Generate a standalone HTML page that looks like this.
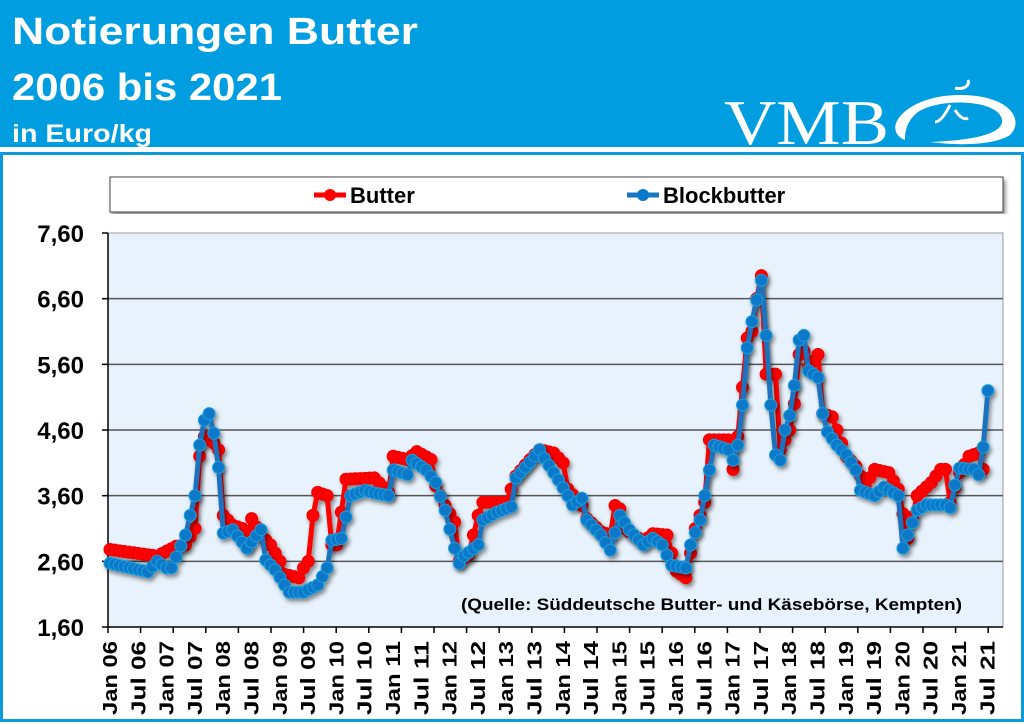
<!DOCTYPE html>
<html><head><meta charset="utf-8"><style>
body{margin:0;width:1024px;height:722px;overflow:hidden;background:#fff;font-family:"Liberation Sans",sans-serif}
</style></head><body>
<svg id="s" width="1024" height="722" xmlns="http://www.w3.org/2000/svg">
<defs>
<filter id="sh" x="-5%" y="-5%" width="110%" height="110%"><feDropShadow dx="2" dy="3" stdDeviation="2" flood-color="#000" flood-opacity="0.45"/></filter>
</defs>
<rect x="0" y="0" width="1024" height="147" fill="#009EE0"/>
<text x="12" y="44" fill="#fff" font-size="38" font-weight="bold" textLength="406" lengthAdjust="spacingAndGlyphs">Notierungen Butter</text>
<text x="12" y="100" fill="#fff" font-size="38" font-weight="bold" textLength="270" lengthAdjust="spacingAndGlyphs">2006 bis 2021</text>
<text x="12" y="142" fill="#fff" font-size="25" font-weight="bold" textLength="140" lengthAdjust="spacingAndGlyphs">in Euro/kg</text>
<text x="724" y="144" fill="#fff" font-size="64" font-family="Liberation Serif,serif" textLength="165" lengthAdjust="spacingAndGlyphs">VMB</text>
<path d="M905 140 C880 130 905 95 960 95 C1010 95 1025 120 1010 135 C995 145 960 146 930 142 C985 140 1010 130 1000 115 C990 100 940 98 918 112 C905 122 905 135 905 140Z" fill="#fff"/>
<path d="M955 88 C965 90 970 85 968 80" stroke="#fff" stroke-width="3" fill="none"/>
<path d="M950 105 C945 115 940 122 935 122 M955 110 C960 118 965 120 968 118" stroke="#fff" stroke-width="3" fill="none"/>
<rect x="1.5" y="153.5" width="1021" height="567" fill="#fff" stroke="#0B9BDB" stroke-width="3"/>
<rect x="110" y="177" width="893" height="35" fill="#fff" stroke="#444" stroke-width="1" filter="url(#sh)"/>
<line x1="314" y1="195" x2="346" y2="195" stroke="#f00" stroke-width="5"/><circle cx="330" cy="195" r="6" fill="#f00"/>
<text x="350" y="203" font-size="22" font-weight="bold">Butter</text>
<line x1="627" y1="195" x2="659" y2="195" stroke="#1a75c0" stroke-width="5"/><circle cx="643" cy="195" r="6" fill="#0a78c8"/>
<text x="663" y="203" font-size="22" font-weight="bold">Blockbutter</text>
<rect x="108" y="233" width="895" height="394" fill="#E8F2FC" stroke="#999" stroke-width="1"/>
<g id="grid" stroke="#555" stroke-width="1.5"></g>
<g id="ylab" font-size="24" font-weight="bold" text-anchor="end"></g>
<g id="xlab" font-size="20" font-weight="bold"></g>
<g id="ser"></g>
<text x="461" y="610" font-size="17" font-weight="bold" textLength="501" lengthAdjust="spacingAndGlyphs">(Quelle: Süddeutsche Butter- und Käsebörse, Kempten)</text>
</svg>
<script>
var NS="http://www.w3.org/2000/svg";
function el(t,a,p){var e=document.createElementNS(NS,t);for(var k in a)e.setAttribute(k,a[k]);p.appendChild(e);return e;}
var g=document.getElementById('grid'),yl=document.getElementById('ylab'),xl=document.getElementById('xlab');
var vals=["7,60","6,60","5,60","4,60","3,60","2,60","1,60"];
for(var i=0;i<7;i++){var y=233+i*65.67;if(i>0&&i<6)el('line',{x1:108,y1:y,x2:1003,y2:y},g);
el('line',{x1:102,y1:y,x2:108,y2:y,stroke:'#000'},g);
var t=el('text',{x:84,y:y+9},yl);t.textContent=vals[i];}
el('line',{x1:108,y1:233,x2:108,y2:627,stroke:'#000'},g);
el('line',{x1:108,y1:627,x2:1003,y2:627,stroke:'#000'},g);
for(var x=108;x<=1003;x+=32.6)el('line',{x1:x,y1:627,x2:x,y2:633,stroke:'#000'},g);
for(var i=0;i<32;i++){var x=110+i*28.3;var yr=6+Math.floor(i/2);var lab=(i%2?"Jul ":"Jan ")+(yr<10?"0"+yr:yr);
var t=el('text',{transform:'translate('+(x+7)+',715) rotate(-90)',textLength:74,lengthAdjust:'spacingAndGlyphs'},xl);t.textContent=lab;}
function interp(k){var out=[];for(var m=0;m<=186;m++){var v=null;for(var j=0;j<k.length-1;j++){if(m>=k[j][0]&&m<=k[j+1][0]){var f=(k[j+1][0]==k[j][0])?0:(m-k[j][0])/(k[j+1][0]-k[j][0]);v=k[j][1]+f*(k[j+1][1]-k[j][1]);break;}}
if(v===null)v=k[k.length-1][1];out.push(v);}return out;}
var B=[[0,2.57],[8,2.44],[10,2.6],[12,2.5],[13,2.5],[16,3.0],[18,3.6],[19,4.37],[20,4.75],[21,4.85],[22,4.55],[23,4.03],[24,3.03],[26,3.08],[29,2.8],[31,2.99],[32,3.08],[33,2.62],[35,2.47],[37,2.24],[38,2.13],[41,2.13],[44,2.24],[46,2.5],[47,2.92],[49,2.95],[51,3.6],[54,3.68],[56,3.64],[59,3.6],[60,3.99],[63,3.92],[64,4.14],[67,3.99],[69,3.8],[71,3.38],[73,2.8],[74,2.57],[75,2.68],[78,2.85],[79,3.23],[82,3.35],[85,3.43],[86,3.87],[89,4.11],[91,4.3],[92,4.17],[95,3.84],[97,3.6],[98,3.46],[100,3.56],[101,3.23],[104,3.0],[106,2.77],[108,3.3],[110,3.08],[113,2.85],[115,2.95],[117,2.85],[119,2.54],[122,2.5],[123,2.85],[125,3.23],[126,3.6],[127,3.99],[128,4.37],[131,4.3],[132,4.14],[133,4.37],[134,4.98],[135,5.85],[136,6.25],[137,6.58],[138,6.88],[139,6.04],[140,4.98],[141,4.22],[142,4.14],[143,4.6],[144,4.82],[145,5.28],[146,5.97],[147,6.04],[148,5.5],[150,5.4],[151,4.85],[152,4.57],[154,4.37],[156,4.22],[158,3.99],[159,3.68],[162,3.6],[164,3.73],[167,3.6],[168,2.8],[169,3.0],[171,3.38],[173,3.46],[177,3.46],[178,3.42],[179,3.76],[180,4.02],[183,4.0],[184,3.92],[185,4.34],[186,5.2]];
var R=[[0,2.78],[10,2.68],[14,2.83],[16,2.85],[18,3.1],[19,4.2],[20,4.5],[22,4.4],[23,4.3],[24,3.3],[26,3.15],[28,3.1],[29,2.85],[30,3.25],[32,3.0],[34,2.85],[36,2.6],[37,2.4],[40,2.35],[41,2.5],[42,2.6],[43,3.3],[44,3.65],[46,3.6],[47,2.85],[48,2.85],[50,3.85],[56,3.87],[59,3.65],[60,4.2],[63,4.15],[65,4.27],[68,4.15],[69,3.75],[71,3.45],[73,3.2],[74,2.6],[76,2.7],[78,3.3],[79,3.5],[84,3.5],[86,3.9],[89,4.15],[91,4.3],[94,4.25],[96,4.1],[97,3.7],[100,3.45],[101,3.25],[104,3.05],[106,3.0],[107,3.45],[108,3.4],[109,3.1],[113,2.9],[115,3.02],[118,3.0],[120,2.45],[122,2.35],[124,3.1],[126,3.5],[127,4.45],[131,4.45],[132,4.0],[133,4.5],[135,6.0],[136,6.1],[137,6.6],[138,6.95],[139,5.45],[141,5.45],[142,4.3],[144,4.6],[145,5.0],[146,5.75],[147,5.8],[148,5.55],[150,5.75],[151,4.85],[153,4.8],[154,4.6],[156,4.2],[158,4.05],[160,3.75],[162,4.0],[165,3.95],[167,3.7],[169,2.95],[171,3.6],[174,3.8],[176,4.0],[177,4.0],[178,3.5],[180,3.95],[182,4.2],[184,4.25],[185,4.0]];
var S=document.getElementById('ser');
function draw(k,col,fill,last){var d=interp(k);var pts=[];for(var m=0;m<=last;m++){pts.push([110+4.72*m,627-(d[m]-1.6)*65.67]);}
var grp=el('g',{filter:'url(#sh)'},S);
el('polyline',{points:pts.map(function(p){return p[0].toFixed(1)+','+p[1].toFixed(1)}).join(' '),fill:'none',stroke:col,'stroke-width':5,'stroke-linejoin':'round'},grp);
pts.forEach(function(p){el('circle',{cx:p[0],cy:p[1],r:6,fill:fill,stroke:col=='#f00'?'#e00':'#1aa0e0','stroke-width':1},grp);});}
draw(R,'#f00','#f00',185);
draw(B,'#1a72bd','#0a78c8',186);
</script>
</body></html>
